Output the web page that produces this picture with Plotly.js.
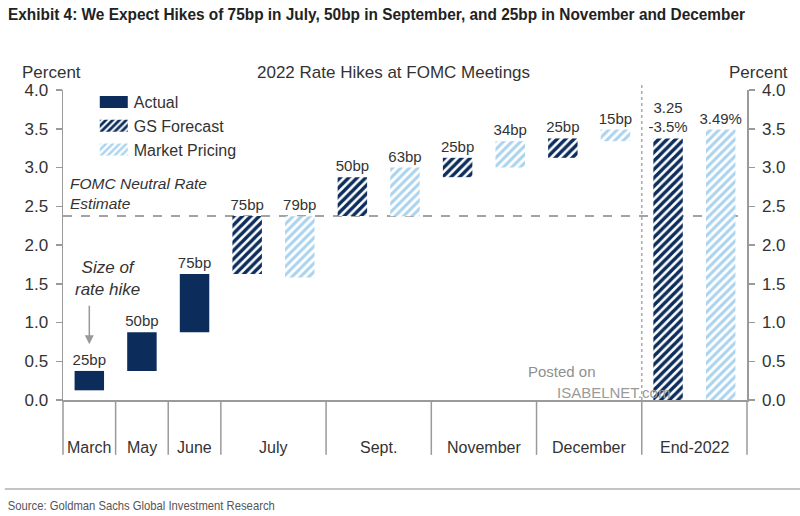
<!DOCTYPE html>
<html>
<head>
<meta charset="utf-8">
<script src="https://cdn.plot.ly/plotly-3.0.1.min.js"></script>
<style>
  html, body { margin: 0; padding: 0; background: #ffffff; }
  #chart { width: 800px; height: 516px; }
</style>
</head>
<body>
<div id="chart"></div>
<script>
// ---------- data ----------
const months = ['March', 'May', 'June', 'July', 'Sept.', 'November', 'December', 'End-2022'];
const slotsPerMonth = [1, 1, 1, 2, 2, 2, 2, 2];

// Actual hikes (March, May, June): floating bars base -> base + hike
const actualBase = [0.125, 0.375, 0.875];
const actualHike = [0.25, 0.5, 0.75];
const actualText = ['25bp', '50bp', '75bp'];

// GS forecast (July, Sept., November, December, End-2022)
const gsBase = [1.625, 2.375, 2.875, 3.125, 0];
const gsHike = [0.75, 0.5, 0.25, 0.25, 3.375];
const gsText = ['75bp', '50bp', '25bp', '25bp', '3.25<br>-3.5%'];

// Market pricing (July, Sept., November, December, End-2022)
const mktBase = [1.58, 2.37, 3.00, 3.34, 0];
const mktHike = [0.79, 0.63, 0.34, 0.15, 3.49];
const mktText = ['79bp', '63bp', '34bp', '15bp', '3.49%'];

const neutralRate = 2.375;
const yTicks = [0, 0.5, 1, 1.5, 2, 2.5, 3, 3.5, 4];

const titleText = 'Exhibit 4: We Expect Hikes of 75bp in July, 50bp in September, and 25bp in November and December';
const sourceText = 'Source: Goldman Sachs Global Investment Research';

// ---------- slot positions from the month structure ----------
const monthStart = [];
let acc = 0;
slotsPerMonth.forEach(n => { monthStart.push(acc); acc += n; });
const totalSlots = acc;
const monthCenter = monthStart.map((s, i) => s + slotsPerMonth[i] / 2);

const actualX = [0, 1, 2].map(i => monthStart[i] + 0.5);
const gsX = [3, 4, 5, 6, 7].map(i => monthStart[i] + 0.5);
const mktX = [3, 4, 5, 6, 7].map(i => monthStart[i] + 1.5);

// ---------- styles ----------
const NAVY = '#0c2d5c';
const LIGHT = '#a9d3ee';
const GREY = '#9a9a9a';
const TXT = '#333333';
const FONT = 'Liberation Sans, Arial, sans-serif';
const BARW = 0.56;

const common = {
  type: 'bar', width: BARW, textposition: 'outside', cliponaxis: false,
  constraintext: 'none', textangle: 0,
  textfont: { family: FONT, size: 15, color: TXT },
  hoverinfo: 'skip'
};

const traces = [
  Object.assign({}, common, {
    name: 'Actual', x: actualX, y: actualHike, base: actualBase, text: actualText,
    marker: { color: NAVY, line: { width: 0 } }
  }),
  Object.assign({}, common, {
    name: 'GS Forecast', x: gsX, y: gsHike, base: gsBase, text: gsText,
    marker: { color: NAVY, line: { width: 0 },
      pattern: { shape: '/', fgcolor: NAVY, bgcolor: '#ffffff', size: 6, solidity: 0.58, fillmode: 'replace' } }
  }),
  Object.assign({}, common, {
    name: 'Market Pricing', x: mktX, y: mktHike, base: mktBase, text: mktText,
    marker: { color: LIGHT, line: { width: 0 },
      pattern: { shape: '/', fgcolor: LIGHT, bgcolor: '#ffffff', size: 6, solidity: 0.5, fillmode: 'replace' } }
  }),
  { type: 'scatter', x: [null], y: [null], yaxis: 'y2', showlegend: false, hoverinfo: 'skip' }
];

// ---------- shapes ----------
const BELOW = -0.177; // bottom of category dividers (paper)
const shapes = [];
shapes.push({ type: 'line', xref: 'paper', yref: 'paper', x0: 0, x1: 0, y0: 0, y1: BELOW, line: { color: GREY, width: 1.5 } });
shapes.push({ type: 'line', xref: 'paper', yref: 'paper', x0: 1, x1: 1, y0: 0, y1: BELOW, line: { color: GREY, width: 1.5 } });
monthStart.slice(1).forEach(s => {
  shapes.push({ type: 'line', xref: 'x', yref: 'paper', x0: s, x1: s, y0: 0, y1: BELOW, line: { color: GREY, width: 1.5 } });
});
shapes.push({ type: 'line', xref: 'paper', yref: 'y', x0: 0, x1: 1, y0: neutralRate, y1: neutralRate,
  line: { color: '#858585', width: 1.5, dash: 'dash' }, layer: 'below' });
shapes.push({ type: 'line', xref: 'x', yref: 'paper', x0: monthStart[7], x1: monthStart[7], y0: 0, y1: 1.016,
  line: { color: '#aaaaaa', width: 1.5, dash: 'dot' } });
shapes.push({ type: 'line', xref: 'paper', yref: 'paper', x0: -0.085, x1: 1.08, y0: -0.287, y1: -0.287,
  line: { color: '#b0b0b0', width: 1.5 } });

// ---------- annotations ----------
const annotations = [];
months.forEach((m, i) => {
  annotations.push({ xref: 'x', yref: 'paper', x: monthCenter[i], y: -0.152, text: m, showarrow: false,
    xanchor: 'center', yanchor: 'middle', font: { family: FONT, size: 16, color: TXT } });
});
annotations.push(
  { xref: 'paper', yref: 'paper', x: 0.483, y: 1.058, text: '2022 Rate Hikes at FOMC Meetings', showarrow: false,
    xanchor: 'center', yanchor: 'middle', font: { family: FONT, size: 17, color: TXT } },
  { xref: 'paper', yref: 'paper', x: -0.0175, y: 1.058, text: 'Percent', showarrow: false,
    xanchor: 'center', yanchor: 'middle', font: { family: FONT, size: 17, color: TXT } },
  { xref: 'paper', yref: 'paper', x: 1.0175, y: 1.058, text: 'Percent', showarrow: false,
    xanchor: 'center', yanchor: 'middle', font: { family: FONT, size: 17, color: TXT } },
  { xref: 'paper', yref: 'paper', x: 0.008, y: 0.665, text: '<i>FOMC Neutral Rate<br>Estimate</i>', showarrow: false,
    xanchor: 'left', yanchor: 'middle', align: 'left', font: { family: FONT, size: 15.5, color: TXT } },
  { xref: 'x', yref: 'paper', x: 0.85, y: 0.392, text: '<i>Size of<br>rate hike</i>', showarrow: false,
    xanchor: 'center', yanchor: 'middle', align: 'center', font: { family: FONT, size: 17, color: TXT } },
  { xref: 'x', yref: 'y', x: actualX[0], y: 0.72, ax: 0, ay: -40, text: '', showarrow: true,
    arrowhead: 2, arrowsize: 1.2, arrowwidth: 1.5, arrowcolor: '#999999' },
  { xref: 'paper', yref: 'paper', x: 0.729, y: 0.093, text: 'Posted on', showarrow: false,
    xanchor: 'center', yanchor: 'middle', font: { family: FONT, size: 15, color: '#8f8f8f' } },
  { xref: 'paper', yref: 'paper', x: 0.805, y: 0.023, text: 'ISABELNET.com', showarrow: false,
    xanchor: 'center', yanchor: 'middle', font: { family: FONT, size: 15, color: '#9a9a9a' } },
  { xref: 'paper', yref: 'paper', x: 0.1148, y: -0.339, text: sourceText, showarrow: false,
    xanchor: 'center', yanchor: 'middle', font: { family: FONT, size: 13, color: '#555555' } }
);

const yaxisCommon = {
  range: [0, 4], tickvals: yTicks, tickformat: '.1f', ticks: 'outside', ticklen: 6, tickwidth: 1.5,
  tickcolor: GREY, showline: true, linecolor: GREY, linewidth: 1.5, showgrid: false, zeroline: false,
  tickfont: { family: FONT, size: 17, color: TXT }, fixedrange: true, ticklabelstandoff: 4
};

const layout = {
  width: 800, height: 516,
  margin: { l: 63, r: 53, t: 90, b: 116 },
  paper_bgcolor: '#ffffff', plot_bgcolor: '#ffffff',
  barmode: 'overlay',
  title: {
    text: titleText,
    x: 0.01, xanchor: 'left', xref: 'container', y: 0.973, yanchor: 'middle', yref: 'container',
    font: { family: FONT, size: 16, color: '#222222', weight: 'bold' }
  },
  xaxis: {
    range: [0, totalSlots], showline: true, linecolor: GREY, linewidth: 1.5, showticklabels: false,
    ticks: '', showgrid: false, zeroline: false, fixedrange: true
  },
  yaxis: Object.assign({}, yaxisCommon, { side: 'left' }),
  yaxis2: Object.assign({}, yaxisCommon, { side: 'right', overlaying: 'y' }),
  showlegend: true,
  legend: {
    x: 0.045, y: 1.016, xanchor: 'left', yanchor: 'top', bgcolor: 'rgba(0,0,0,0)',
    font: { family: FONT, size: 16, color: TXT }, tracegroupgap: 0, itemclick: false, itemdoubleclick: false
  },
  shapes: shapes,
  annotations: annotations
};

function finish() {
  // condensed title / source text, like the reference's narrow typeface
  const t = document.querySelector('#chart .gtitle');
  if (t) { t.setAttribute('textLength', '737'); t.setAttribute('lengthAdjust', 'spacingAndGlyphs'); }
  document.querySelectorAll('#chart .annotation-text').forEach(el => {
    if (el.textContent === sourceText) {
      el.setAttribute('textLength', '267'); el.setAttribute('lengthAdjust', 'spacingAndGlyphs');
    }
  });
  // wider legend swatches, as in the reference
  document.querySelectorAll('#chart .legend .legendpoints path').forEach(p => {
    p.setAttribute('d', 'M14,6H-14V-6H14Z');
  });
}

Plotly.newPlot('chart', traces, layout, { displayModeBar: false, staticPlot: true }).then(finish);
</script>
</body>
</html>
